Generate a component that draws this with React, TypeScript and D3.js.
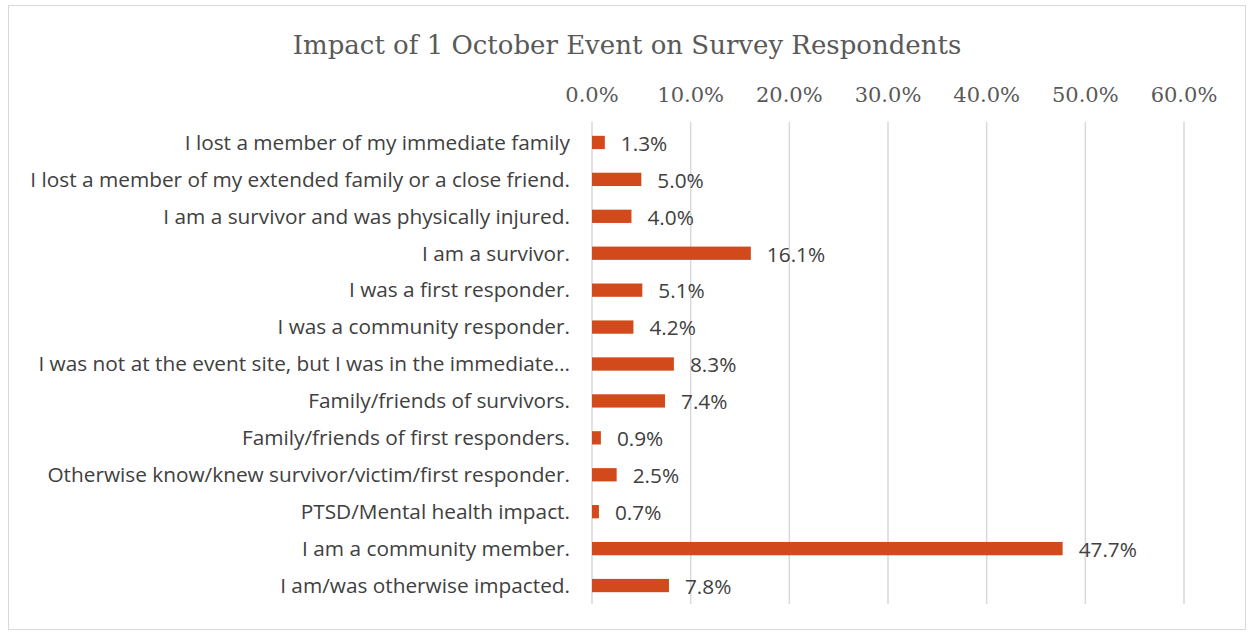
import React from "react";
import * as d3 from "d3";

const categories = [
  "I lost a member of my immediate family",
  "I lost a member of my extended family or a close friend.",
  "I am a survivor and was physically injured.",
  "I am a survivor.",
  "I was a first responder.",
  "I was a community responder.",
  "I was not at the event site, but I was in the immediate…",
  "Family/friends of survivors.",
  "Family/friends of first responders.",
  "Otherwise know/knew survivor/victim/first responder.",
  "PTSD/Mental health impact.",
  "I am a community member.",
  "I am/was otherwise impacted.",
];
const values = [1.3, 5.0, 4.0, 16.1, 5.1, 4.2, 8.3, 7.4, 0.9, 2.5, 0.7, 47.7, 7.8];
const ticks = [0, 10, 20, 30, 40, 50, 60];

const W = 1249;
const H = 634;

const App = () => {
  const x = d3.scaleLinear().domain([0, 60]).range([592, 1184]);
  const y = d3
    .scaleBand<string>()
    .domain(categories)
    .range([124, 604])
    .paddingInner(0.64)
    .paddingOuter(0.32);

  const labelFont = "'Open Sans', 'Noto Sans', sans-serif";
  const serif = "'DejaVu Serif', serif";

  return (
    <div style={{ position: "absolute", left: 0, top: 0 }}>
      <svg width={W} height={H} style={{ display: "block", background: "#fff" }}>
        <rect x={8.5} y={5.5} width={1237} height={624} fill="#fff" stroke="#d9d9d9" />
        <text
          x={627}
          y={54}
          textAnchor="middle"
          fontFamily={serif}
          fontSize={26}
          fill="#595959"
        >
          Impact of 1 October Event on Survey Respondents
        </text>
        {ticks.map((t) => (
          <g key={t}>
            <line x1={x(t)} x2={x(t)} y1={122} y2={604} stroke="#d9d9d9" strokeWidth={1.5} />
            <text
              x={x(t)}
              y={102}
              textAnchor="middle"
              fontFamily={serif}
              fontSize={21}
              fill="#595959"
            >
              {d3.format(".1f")(t) + "%"}
            </text>
          </g>
        ))}
        {categories.map((c, i) => {
          const yc = (y(c) as number) + y.bandwidth() / 2;
          return (
            <g key={c}>
              <text
                x={570}
                y={yc}
                dy="0.35em"
                textAnchor="end"
                fontFamily={labelFont}
                fontSize={20.8}
                fill="#404040"
              >
                {c}
              </text>
              <rect
                x={x(0)}
                y={y(c)}
                width={x(values[i]) - x(0)}
                height={y.bandwidth()}
                fill="#d24a1b"
              />
              <text
                x={x(values[i]) + 16}
                y={yc}
                dy="0.4em"
                fontFamily={labelFont}
                fontSize={20.8}
                fill="#404040"
              >
                {d3.format(".1f")(values[i]) + "%"}
              </text>
            </g>
          );
        })}
      </svg>
    </div>
  );
};

export default App;
